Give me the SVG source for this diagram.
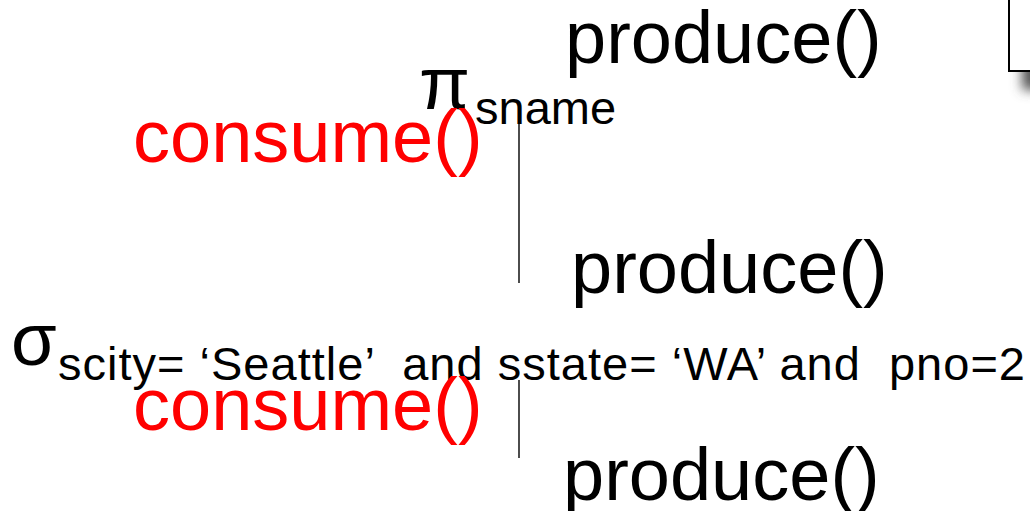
<svg xmlns="http://www.w3.org/2000/svg" width="1030" height="511" viewBox="0 0 1030 511">
<style>
text{font-family:"Liberation Sans",Arial,sans-serif;}
.big{font-size:74px;fill:#000;}
.red{font-size:74px;fill:#ff0000;}
.sub{font-size:47px;fill:#000;}
.conn{stroke:#000;stroke-width:1.4;fill:none;}
</style>
<defs>
<filter id="blur" x="-50%" y="-50%" width="200%" height="200%"><feGaussianBlur stdDeviation="6"/></filter>
</defs>
<g id="box">
<rect x="1022" y="-20" width="40" height="110" fill="#555" filter="url(#blur)"/>
<rect x="1009" y="-10" width="40" height="81" fill="#fff" stroke="#000" stroke-width="2"/>
</g>
<g id="connectors">
<line class="conn" x1="519" y1="124" x2="519" y2="283"/>
<line class="conn" x1="519" y1="380" x2="519" y2="458"/>
</g>
<g id="produce-top"><text class="big" x="565" y="63">produce()</text></g>
<g id="project">
<text class="big" x="419" y="109">π</text>
<text class="sub" x="475" y="124">sname</text>
</g>
<g id="consume-top"><text class="red" x="133" y="162">consume()</text></g>
<g id="produce-mid"><text class="big" x="571" y="293">produce()</text></g>
<g id="select">
<text class="big" x="11" y="365">σ</text>
<text class="sub" x="58" y="380" xml:space="preserve" textLength="967" lengthAdjust="spacing">scity= ‘Seattle’  and sstate= ‘WA’ and  pno=2</text>
</g>
<g id="consume-bottom"><text class="red" x="133" y="430">consume()</text></g>
<g id="produce-bottom"><text class="big" x="563" y="500">produce()</text></g>
</svg>
